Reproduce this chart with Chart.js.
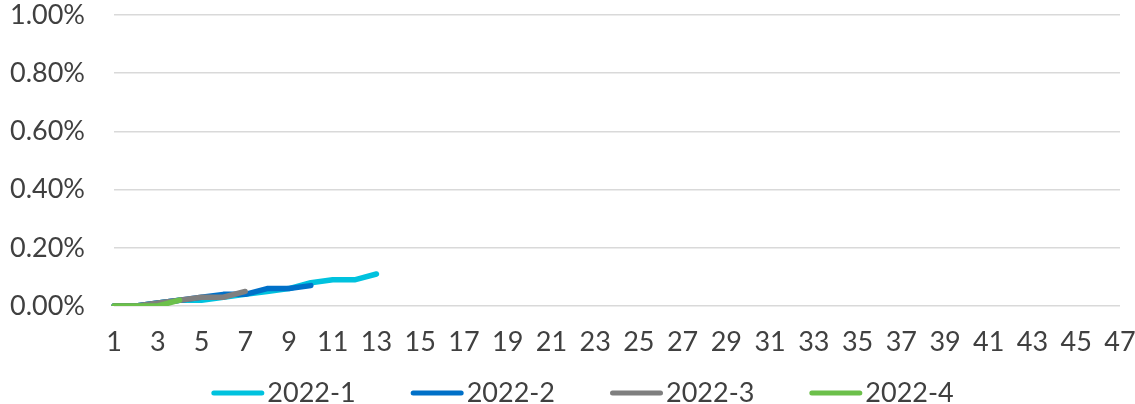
<!DOCTYPE html>
<html><head><meta charset="utf-8">
<script src="https://cdn.jsdelivr.net/npm/chart.js@4"></script>
<style>html,body{margin:0;padding:0;background:#fff}#w{width:1135px;height:404px}</style>
</head><body><div id="w"><canvas id="c"></canvas></div>
<script>
const categories = Array.from({length:47},(_, i)=>String(i+1));
const s2022_1 = [0,0,0.01,0.02,0.02,0.03,0.04,0.05,0.06,0.08,0.09,0.09,0.11];
const s2022_2 = [0,0,0.01,0.02,0.03,0.04,0.04,0.06,0.06,0.07];
const s2022_3 = [0,0,0.01,0.02,0.03,0.03,0.05];
const s2022_4 = [0,0,0,0.02];
const seriesNames = ['2022-1','2022-2','2022-3','2022-4'];
const colors = ['#00C2DE','#0070C8','#7F7F7F','#6CC04A'];
const yTicks = [0,0.2,0.4,0.6,0.8,1.0];
const all = [s2022_1,s2022_2,s2022_3,s2022_4];
const FS = 27;
const font = {family:'Lato', size:FS};
const textColor = '#404040';

const customLegend = {
  id:'customLegend',
  afterDraw(chart){
    const ctx = chart.ctx;
    ctx.save();
    ctx.font = FS + 'px Lato';
    const sw = 53, gap = 3, sp = 55;
    const widths = seriesNames.map(n => ctx.measureText(n).width);
    const total = widths.reduce((a,w)=>a+sw+gap+w,0) + sp*(seriesNames.length-1);
    let x = (chart.width - total)/2 + 15;
    const y = chart.height - 11;
    ctx.textBaseline = 'middle';
    ctx.textAlign = 'left';
    seriesNames.forEach((n,i)=>{
      ctx.strokeStyle = colors[i];
      ctx.lineWidth = 5;
      ctx.lineCap = 'round';
      ctx.beginPath(); ctx.moveTo(x+2.5, y); ctx.lineTo(x+sw-2.5, y); ctx.stroke();
      ctx.fillStyle = textColor;
      ctx.fillText(n, x+sw+gap, y);
      x += sw + gap + widths[i] + sp;
    });
    ctx.restore();
  }
};

new Chart(document.getElementById('c'),{
  type:'line',
  data:{labels:categories, datasets: all.map((d,i)=>({label:seriesNames[i], data:d, borderColor:colors[i], backgroundColor:colors[i], borderWidth:5.5, pointRadius:0, tension:0, borderCapStyle:'round', borderJoinStyle:'round'})).reverse()},
  options:{responsive:true, maintainAspectRatio:false, animation:false,
    layout:{padding:{top:0,right:0,left:0,bottom:46}},
    plugins:{legend:{display:false}, tooltip:{enabled:false}},
    scales:{
      x:{grid:{display:false}, border:{display:false}, afterFit:s=>{s.height=52; s.paddingLeft=0; s.paddingRight=15;}, ticks:{font, color:textColor, autoSkip:false, maxRotation:0, padding:12, callback:(v,i)=> i%2===0 ? categories[i] : ''}},
      y:{min:0,max:1.0, afterFit:s=>{s.width=114; s.paddingTop=15; s.paddingBottom=0;}, afterBuildTicks:a=>{a.ticks=yTicks.map(v=>({value:v}));}, grid:{color:'#D9D9D9', lineWidth:1.5, drawTicks:false}, border:{display:false}, ticks:{font, color:textColor, padding:29, callback:v=>v.toFixed(2)+'%'}}
    }}
  ,plugins:[customLegend]
});
</script></body></html>
